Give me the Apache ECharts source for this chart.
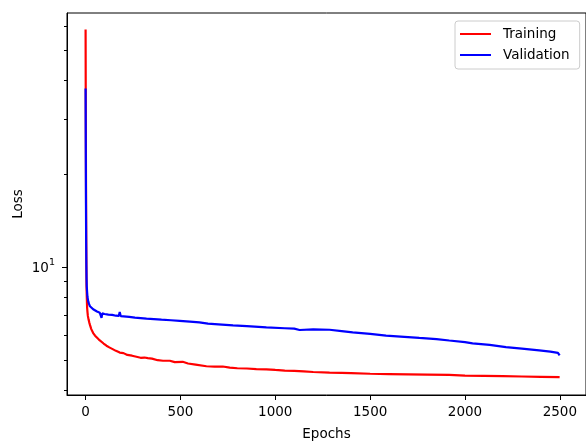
<!DOCTYPE html>
<html>
<head>
<meta charset="utf-8">
<script src="https://cdn.jsdelivr.net/npm/echarts@6/dist/echarts.min.js"></script>
<style>
html,body{margin:0;padding:0;background:#fff;}
#chart{width:586px;height:446px;}
</style>
</head>
<body>
<div id="chart"></div>
<script>
// ---- data ----
const trainEpochs = [0,1,2,3,4,5,6,8,10,12,16,20,23,30,40,50,58,70,80,95,110,125,140,160,180,189,200,220,245,268,290,310,328,350,380,408,444,470,512,540,580,637,680,723,760,800,850,900,953,1000,1050,1100,1150,1200,1286,1350,1400,1500,1600,1700,1800,1917,2000,2100,2200,2300,2400,2499];
const trainLoss = [58.5,31,20,14,10.8,8.6,8.1,7.4,7.15,6.95,6.75,6.6,6.5,6.3,6.12,6.0,5.93,5.83,5.75,5.66,5.57,5.5,5.44,5.36,5.29,5.33,5.27,5.2,5.17,5.13,5.09,5.1,5.08,5.06,5.0,4.98,4.98,4.93,4.94,4.88,4.84,4.78,4.77,4.77,4.73,4.71,4.7,4.68,4.67,4.65,4.63,4.62,4.6,4.58,4.56,4.55,4.54,4.52,4.51,4.5,4.49,4.48,4.46,4.45,4.44,4.43,4.42,4.41];

const valEpochs = [0,1,2,3,4,5,6,8,10,14,18,23,30,40,50,60,75,80,84,88,100,120,140,160,175,180,185,200,230,260,290,321,360,400,450,496,550,600,645,700,777,850,953,1050,1100,1128,1135,1200,1286,1350,1408,1500,1584,1680,1759,1850,1917,2000,2040,2130,2216,2300,2391,2450,2490,2499];
const valLoss = [37.7,24,16,12,10.2,9.2,8.7,8.3,8.0,7.74,7.6,7.47,7.38,7.3,7.25,7.18,7.11,7.08,6.85,7.08,7.05,7.02,7.0,6.96,6.95,7.15,6.94,6.93,6.9,6.86,6.84,6.81,6.79,6.76,6.73,6.7,6.66,6.62,6.56,6.53,6.48,6.44,6.38,6.34,6.32,6.26,6.31,6.29,6.27,6.21,6.15,6.08,6.0,5.95,5.9,5.85,5.79,5.72,5.67,5.6,5.51,5.45,5.38,5.33,5.28,5.18];

const xTicks = [0,500,1000,1500,2000,2500];
const yMajorTicks = [10];
const yMinorTicks = [4,5,6,7,8,9,20,30,40,50,60];
const seriesNames = ['Training','Validation'];
const seriesColors = ['#ff0000','#0000ff'];

// axis limits
const xMin = -98, xMax = 2638;
const yMin = 3.86, yMax = 66.1;

const FONT = 'DejaVu Sans';
const lg = v => Math.log10(v);

const chart = echarts.init(document.getElementById('chart'), null, {renderer:'canvas'});
chart.setOption({
  animation:false,
  backgroundColor:'#fff',
  textStyle:{fontFamily:FONT},
  grid:{left:67, top:13, width:520, height:389, show:true, borderColor:'#000', borderWidth:1, backgroundColor:'transparent'},
  legend:{
    left:455, top:21, orient:'vertical',
    padding:[5,10,6,5], itemGap:5, itemWidth:31, itemHeight:2,
    icon:'rect',
    backgroundColor:'rgba(255,255,255,0.8)', borderColor:'#cccccc', borderWidth:1, borderRadius:3,
    textStyle:{fontFamily:FONT, fontSize:13.5, color:'#000', padding:[0,0,0,7], lineHeight:16},
    data:seriesNames
  },
  xAxis:{
    type:'value', min:xMin, max:xMax,
    name:'Epochs', nameLocation:'middle', nameGap:32,
    nameTextStyle:{fontFamily:FONT, fontSize:13.5, color:'#000'},
    axisLine:{show:true, onZero:false, lineStyle:{color:'#000', width:1}},
    axisTick:{show:true, length:5, customValues:xTicks, lineStyle:{color:'#000'}},
    axisLabel:{show:true, margin:10, customValues:xTicks, fontFamily:FONT, fontSize:13.5, color:'#000',
      formatter: v => String(Math.round(v))},
    splitLine:{show:false}
  },
  yAxis:[
    {
      type:'log', logBase:10, min:yMin, max:yMax, position:'left',
      name:'Loss', nameLocation:'middle', nameGap:42, nameRotate:90,
      nameTextStyle:{fontFamily:FONT, fontSize:13.5, color:'#000'},
      axisLine:{show:true, onZero:false, lineStyle:{color:'#000', width:1}},
      axisTick:{show:false}, axisLabel:{show:false}, splitLine:{show:false}, minorTick:{show:false}
    },
    {
      type:'value', min:lg(yMin), max:lg(yMax), position:'left',
      axisLine:{show:false, onZero:false},
      axisTick:{show:true, length:5, customValues:yMajorTicks.map(lg), lineStyle:{color:'#000'}},
      axisLabel:{show:true, margin:12, customValues:yMajorTicks.map(lg),
        formatter: v => '{b|10}{s|' + Math.round(v) + '}',
        rich:{
          b:{fontFamily:FONT, fontSize:13.5, color:'#000', padding:[4,0,0,0]},
          s:{fontFamily:FONT, fontSize:9.5, color:'#000', verticalAlign:'top', padding:[0,0,7,0]}
        }},
      splitLine:{show:false}
    },
    {
      type:'value', min:lg(yMin), max:lg(yMax), position:'left',
      axisLine:{show:false, onZero:false},
      axisTick:{show:true, length:3, customValues:yMinorTicks.map(lg), lineStyle:{color:'#000'}},
      axisLabel:{show:false},
      splitLine:{show:false}
    }
  ],
  series:[
    {
      name:seriesNames[0], type:'line', yAxisIndex:0, showSymbol:false, symbol:'none',
      lineStyle:{color:seriesColors[0], width:2.2}, itemStyle:{color:seriesColors[0]},
      data: trainEpochs.map((e,i)=>[e, trainLoss[i]])
    },
    {
      name:seriesNames[1], type:'line', yAxisIndex:0, showSymbol:false, symbol:'none',
      lineStyle:{color:seriesColors[1], width:2.2}, itemStyle:{color:seriesColors[1]},
      data: valEpochs.map((e,i)=>[e, valLoss[i]])
    }
  ]
});
</script>
</body>
</html>
